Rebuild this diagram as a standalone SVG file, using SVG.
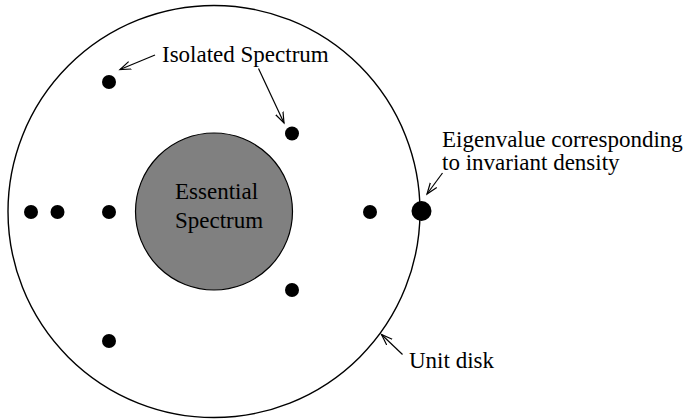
<svg xmlns="http://www.w3.org/2000/svg" width="683" height="419" viewBox="0 0 683 419">
  <style>
    .disk { fill: none; stroke: #000; stroke-width: 1.4; }
    .ess { fill: #808080; stroke: #000; stroke-width: 1.2; }
    .dot { fill: #000; }
    .lbl { font-family: "Liberation Serif", "Times New Roman", serif; font-size: 23px; fill: #000; }
    .ptr { fill: none; stroke: #000; stroke-width: 1.2; marker-end: url(#vhead); }
  </style>
  <defs>
    <marker id="vhead" markerUnits="userSpaceOnUse" markerWidth="14" markerHeight="12" refX="11" refY="5" orient="auto" viewBox="0 0 14 10">
      <path d="M0,1 L11,5 L0,9" fill="none" stroke="#000" stroke-width="1.2"/>
    </marker>
  </defs>

  <g id="unit-disk">
    <circle class="disk" cx="214" cy="211.5" r="206"/>
  </g>

  <g id="essential-spectrum">
    <circle class="ess" cx="214" cy="211.5" r="78.5"/>
    <text class="lbl" x="175" y="199">Essential</text>
    <text class="lbl" x="175" y="227.5">Spectrum</text>
  </g>

  <g id="isolated-eigenvalues">
    <circle class="dot" cx="31" cy="212" r="7"/>
    <circle class="dot" cx="57.5" cy="212" r="7"/>
    <circle class="dot" cx="109" cy="212" r="7"/>
    <circle class="dot" cx="109" cy="82" r="7"/>
    <circle class="dot" cx="292" cy="133.5" r="7"/>
    <circle class="dot" cx="370" cy="212" r="7"/>
    <circle class="dot" cx="292" cy="290" r="7"/>
    <circle class="dot" cx="109" cy="341" r="7"/>
  </g>

  <g id="invariant-eigenvalue">
    <circle class="dot" cx="421.5" cy="211" r="10"/>
  </g>

  <g id="label-isolated">
    <text class="lbl" x="162" y="62">Isolated Spectrum</text>
  </g>

  <g id="label-invariant">
    <text class="lbl" x="442" y="146.5">Eigenvalue corresponding</text>
    <text class="lbl" x="442" y="169.5">to invariant density</text>
  </g>

  <g id="label-unit-disk">
    <text class="lbl" x="409" y="367.5">Unit disk</text>
  </g>

  <g id="connectors">
    <line class="ptr" x1="155" y1="55" x2="120" y2="69.5"/>
    <line class="ptr" x1="258.5" y1="68.5" x2="284" y2="123"/>
    <line class="ptr" x1="442.5" y1="173" x2="427" y2="194"/>
    <line class="ptr" x1="402.5" y1="354.5" x2="381.5" y2="334.5"/>
  </g>
</svg>
